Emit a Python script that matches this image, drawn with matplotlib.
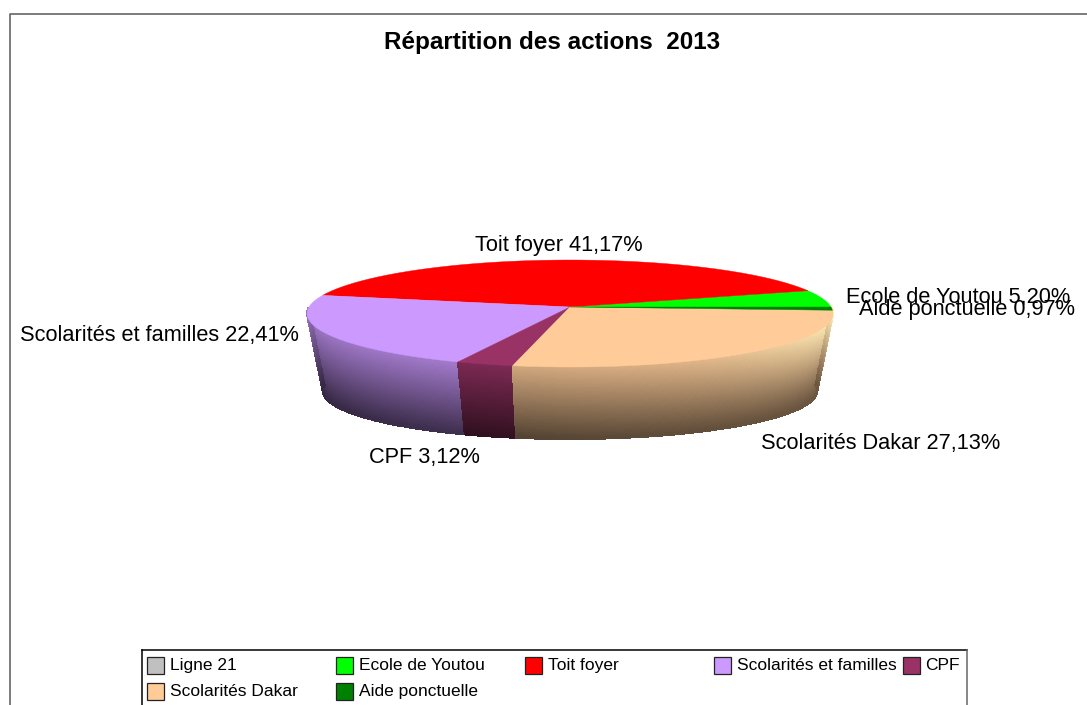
import matplotlib
matplotlib.use('Agg')
import matplotlib.pyplot as plt
from matplotlib.patches import Rectangle
import numpy as np

plt.rcParams['font.family'] = ['Liberation Sans', 'DejaVu Sans']

title = 'Répartition des actions  2013'
names = ['Ligne 21', 'Ecole de Youtou', 'Toit foyer', 'Scolarités et familles',
         'CPF', 'Scolarités Dakar', 'Aide ponctuelle']
shares = [0.0, 5.20, 41.17, 22.41, 3.12, 27.13, 0.97]
colors = ['#C0C0C0', '#00FF00', '#FF0000', '#CC99FF', '#993366', '#FFCC99', '#008000']
# the thin last slice shows no wall of its own, the one before runs on over it
wall_colors = ['#C0C0C0', '#00FF00', '#FF0000', '#CC99FF', '#993366', '#FFCC99', '#FFCC99']

# where the slice labels start, in image pixels (none for the empty slice)
label_pos = [None, (846, 298), (475, 246), (20, 336), (369, 458), (761, 443), (859, 309)]

# pie projection, in image pixels
CX, CY = 570, 307
RX, RY = 261, 52.7
PERSP = 0.1216
DEPTH = 78
SHRINK_X, SHRINK_Y = 0.94, 0.90


def project(theta):
    u, v = np.cos(theta), np.sin(theta)
    d = 1 + PERSP * v
    return CX + RX * u / d, CY - RY * v / d


def side_rgb(base, theta, t):
    # t runs 0 (top of the wall) to 1 (bottom), lighter towards the right end
    base = np.array(matplotlib.colors.to_rgb(base))
    u = np.cos(theta)
    level = (0.84 + 0.08 * u - 0.50 * t)[..., None]
    rgb = base * level
    glow = (np.clip(u, 0, 1) ** 3 * (1 - t) ** 2)[..., None]
    rgb = rgb + glow * 0.8 * (np.array([1.0, 1.0, 0.78]) - rgb)
    return np.clip(rgb, 0, 1)


fig = plt.figure(figsize=(10.87, 7.05), dpi=100)
ax = fig.add_axes([0, 0, 1, 1])
ax.set_xlim(0, 1087)
ax.set_ylim(705, 0)
ax.axis('off')

# outer frame, runs off the right and bottom of the picture
ax.plot([9.5, 9.5, 1087], [705, 13.5, 13.5], color='#666666', lw=1.2)

ax.text(552, 42, title, ha='center', va='center', fontsize=17.5, fontweight='bold', color='black')

edges = np.radians(np.cumsum([0] + shares) * 360 / sum(shares))

# wall of the pie, only the front half can be seen
for i, c in enumerate(wall_colors):
    a0, a1 = max(edges[i], np.pi), edges[i + 1]
    if a1 <= a0:
        continue
    th = np.linspace(a0, a1, max(int(np.degrees(a1 - a0)) * 4, 2) + 1)
    t = np.linspace(0, 1, 41)
    T, H = np.meshgrid(th, t)
    x, y = project(T)
    k = 1 + H * (SHRINK_X - 1)
    X = CX + (x - CX) * k
    Y = CY + (y - CY) * (1 + H * (SHRINK_Y - 1)) + H * DEPTH
    Tm = (T[:-1, :-1] + T[:-1, 1:]) / 2
    Hm = (H[:-1, :-1] + H[1:, :-1]) / 2
    ax.pcolormesh(X, Y, side_rgb(c, Tm, Hm), shading='flat', edgecolors='face',
                  linewidth=0.3, zorder=2)

# top of the pie
for i, c in enumerate(colors):
    if shares[i] == 0:
        continue
    th = np.linspace(edges[i], edges[i + 1], max(int(np.degrees(edges[i + 1] - edges[i])), 2) + 1)
    x, y = project(th)
    ax.fill(np.r_[CX, x], np.r_[CY, y], color=c, lw=0.3, zorder=3)

for name, v, pos in zip(names, shares, label_pos):
    if pos is None:
        continue
    label = f'{name} {v:.2f}%'.replace('.', ',')
    ax.text(pos[0], pos[1], label, ha='left', va='center', fontsize=15.7, color='black', zorder=5)

# legend box, also cut off by the bottom of the picture
ax.plot([141.5, 141.5], [705, 649.5], color='black', lw=1.1, zorder=4)
ax.plot([141.5, 967], [649.5, 649.5], color='black', lw=1.1, zorder=4)
ax.plot([967, 967], [649.5, 705], color='#666666', lw=1.1, zorder=4)

for i, (name, c) in enumerate(zip(names, colors)):
    row, col = divmod(i, 5)
    x0 = 147 + col * 188.9
    y0 = 657 + row * 26
    ax.add_patch(Rectangle((x0, y0), 17, 16.5, facecolor=c, edgecolor='#222222', lw=0.9, zorder=4))
    ax.text(x0 + 23, y0 + 8.5, name, ha='left', va='center', fontsize=12.5, color='black', zorder=5)

fig.savefig('out.png', dpi=100)
